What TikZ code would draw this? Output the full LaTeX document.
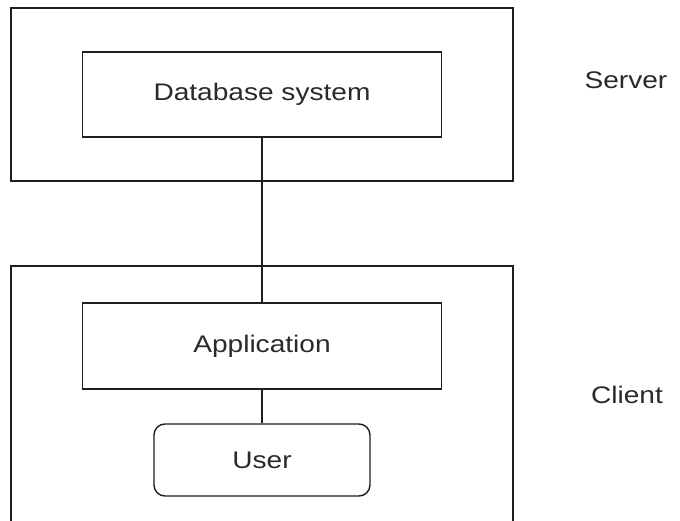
\documentclass[tikz,border=0pt]{standalone}
\usepackage{fontspec}
\setmainfont[FakeStretch=1.17]{Liberation Sans}
\definecolor{txt}{HTML}{2A2A2A}
\definecolor{ln}{HTML}{1E1E1E}
\begin{document}
\begin{tikzpicture}[x=1pt,y=-1pt,
  box/.style={draw=ln,line width=1.4pt,rectangle,inner sep=0pt,anchor=center},
  lbl/.style={text=txt,font=\fontsize{24}{28}\selectfont,inner sep=0pt},
  conn/.style={draw=ln,line width=1.5pt}]
\useasboundingbox (0,0) rectangle (680,521);
\clip (0,0) rectangle (680,521);
\fill[white] (0,0) rectangle (680,521);
% server container
\node[box,minimum width=502pt,minimum height=173pt] (server) at (262,94.5) {};
\node[box,minimum width=359pt,minimum height=85pt,lbl] (db) at (262,94.5) {Database system};
% client container (bottom edge is cut off)
\node[box,minimum width=502pt,minimum height=300pt] (client) at (262,416) {};
\node[box,minimum width=359pt,minimum height=86pt,lbl] (app) at (262,346) {Application};
\node[box,rounded corners=11pt,minimum width=216pt,minimum height=72pt,lbl] (user) at (262,460) {User};
% connectors
\draw[conn] (db.south) -- (app.north);
\draw[conn] (app.south) -- (user.north);
% side labels
\node[lbl] (serverlbl) at (626,80) {Server};
\node[lbl] (clientlbl) at (627,395) {Client};
\end{tikzpicture}
\end{document}
